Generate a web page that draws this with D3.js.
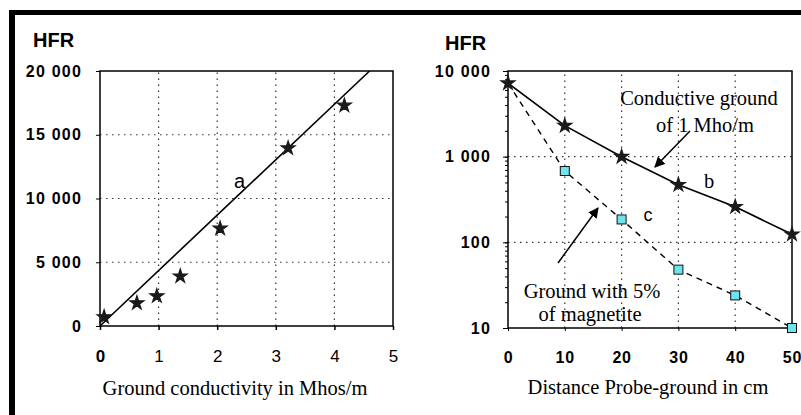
<!DOCTYPE html>
<html>
<head>
<meta charset="utf-8">
<script src="https://cdn.jsdelivr.net/npm/d3@7"></script>
<style>
  body { margin: 0; background: #fff; }
  svg { display: block; }
  .serif { font-family: "Liberation Serif", "DejaVu Serif", serif; }
  .sans { font-family: Arial, "Liberation Sans", sans-serif; }
</style>
</head>
<body>
<script>
// left chart: HFR vs ground conductivity
const condX = [0.07, 0.63, 0.97, 1.37, 2.05, 3.21, 4.17];
const condHFR = [700, 1800, 2350, 3900, 7650, 13950, 17300];
const fitLine = [[0, 0], [4.6, 20000]];
const leftXTicks = [0, 1, 2, 3, 4, 5];
const leftYTicks = [0, 5000, 10000, 15000, 20000];

// right chart: HFR vs probe distance (log)
const distX = [0, 10, 20, 30, 40, 50];
const hfrB = [7200, 2300, 1000, 470, 260, 124];
const hfrC = [7200, 680, 185, 48, 24, 10];
const rightXTicks = [0, 10, 20, 30, 40, 50];
const rightYTicks = [10, 100, 1000, 10000];

const W = 801, H = 415;
const fmt = d => d3.format(',')(d).replace(/,/g, ' ');

const svg = d3.select('body').append('svg')
    .attr('width', W)
    .attr('height', H);

svg.append('rect').attr('width', W).attr('height', H).attr('fill', '#fff');

// thick frame on top and left
svg.append('rect').attr('x', 9).attr('y', 10).attr('width', W - 9).attr('height', 5).attr('fill', '#000');
svg.append('rect').attr('x', 9).attr('y', 10).attr('width', 6).attr('height', H - 10).attr('fill', '#000');

function gridLine(g, x1, y1, x2, y2) {
    g.append('line')
        .attr('x1', x1).attr('y1', y1).attr('x2', x2).attr('y2', y2)
        .attr('stroke', '#333')
        .attr('stroke-width', 1.2)
        .attr('stroke-dasharray', '1.5,4.5');
}

// ---- left chart ----
const lx = d3.scaleLinear().domain([0, 5]).range([100, 393]);
const ly = d3.scaleLinear().domain([0, 20000]).range([326, 71]);
const L = svg.append('g');

leftXTicks.slice(1, -1).forEach(t => gridLine(L, lx(t), ly(0), lx(t), ly(20000)));
leftYTicks.slice(1, -1).forEach(t => gridLine(L, lx(0), ly(t), lx(5), ly(t)));

L.append('rect')
    .attr('x', lx(0)).attr('y', ly(20000))
    .attr('width', lx(5) - lx(0)).attr('height', ly(0) - ly(20000))
    .attr('fill', 'none').attr('stroke', '#000').attr('stroke-width', 1.5);

L.append('g')
    .attr('transform', `translate(0,${ly(0)})`)
    .call(d3.axisBottom(lx).tickValues(leftXTicks).tickSize(4).tickFormat(d3.format('d')))
    .call(g => g.select('.domain').remove())
    .call(g => g.selectAll('line').attr('stroke-width', 1.5))
    .call(g => g.selectAll('text').attr('font-family', null).attr('class', 'sans').attr('font-size', 17)
        .attr('y', 36).attr('dy', 0)
        .attr('font-weight', d => d === 0 ? 'bold' : 'normal'));

L.append('g')
    .attr('transform', `translate(${lx(0)},0)`)
    .call(d3.axisLeft(ly).tickValues(leftYTicks).tickSize(4).tickFormat(fmt))
    .call(g => g.select('.domain').remove())
    .call(g => g.selectAll('text').attr('class', 'sans').attr('font-size', 16)
        .attr('font-weight', 'bold').attr('x', -18).attr('letter-spacing', 1.2));

L.select('g').attr('font-family', null);
L.selectAll('g').attr('font-family', null);

L.append('path')
    .datum(fitLine)
    .attr('fill', 'none').attr('stroke', '#000').attr('stroke-width', 1.6)
    .attr('d', d3.line().x(d => lx(d[0])).y(d => ly(d[1])));

L.selectAll('.pt')
    .data(condX.map((x, i) => [x, condHFR[i]]))
    .join('path')
    .attr('transform', d => `translate(${lx(d[0])},${ly(d[1])})`)
    .attr('d', d3.symbol(d3.symbolStar, 60))
    .attr('fill', '#1a1a1a')
    .attr('stroke', '#1a1a1a').attr('stroke-width', 1.2);

L.append('text').attr('class', 'sans').attr('x', 33).attr('y', 47)
    .attr('font-weight', 'bold').attr('font-size', 20).text('HFR');
L.append('text').attr('class', 'sans').attr('x', 234).attr('y', 188)
    .attr('font-size', 20).text('a');
L.append('text').attr('class', 'serif').attr('x', 235).attr('y', 395).attr('text-anchor', 'middle')
    .attr('font-size', 20.5).text('Ground conductivity in Mhos/m');

// ---- right chart ----
const rx = d3.scaleLinear().domain([0, 50]).range([508, 792]);
const ry = d3.scaleLog().domain([10, 10000]).range([328, 71]);
const R = svg.append('g');

rightXTicks.slice(1, -1).forEach(t => gridLine(R, rx(t), ry(10), rx(t), ry(10000)));
rightYTicks.slice(1, -1).forEach(t => gridLine(R, rx(0), ry(t), rx(50), ry(t)));

R.append('rect')
    .attr('x', rx(0)).attr('y', ry(10000))
    .attr('width', rx(50) - rx(0)).attr('height', ry(10) - ry(10000))
    .attr('fill', 'none').attr('stroke', '#000').attr('stroke-width', 1.5);

R.append('g')
    .attr('transform', `translate(0,${ry(10)})`)
    .call(d3.axisBottom(rx).tickValues(rightXTicks).tickSize(3).tickFormat(d3.format('d')))
    .call(g => g.select('.domain').remove())
    .call(g => g.selectAll('text').attr('class', 'sans').attr('font-size', 16)
        .attr('font-weight', 'bold').attr('y', 35).attr('dy', 0).attr('letter-spacing', 0.8));

// minor log ticks
R.append('g')
    .attr('transform', `translate(${rx(0)},0)`)
    .call(d3.axisLeft(ry).ticks(10, '').tickSize(3))
    .call(g => g.select('.domain').remove())
    .call(g => g.selectAll('text').remove());

R.append('g')
    .attr('transform', `translate(${rx(0)},0)`)
    .call(d3.axisLeft(ry).tickValues(rightYTicks).tickSize(5).tickFormat(fmt))
    .call(g => g.select('.domain').remove())
    .call(g => g.selectAll('text').attr('class', 'sans').attr('font-size', 16)
        .attr('font-weight', 'bold').attr('x', -17).attr('letter-spacing', 1.2));

R.selectAll('g').attr('font-family', null);

const lineR = d3.line().x(d => rx(d[0])).y(d => ry(d[1]));
const dataB = distX.map((x, i) => [x, hfrB[i]]);
const dataC = distX.map((x, i) => [x, hfrC[i]]);

R.append('path').datum(dataC)
    .attr('fill', 'none').attr('stroke', '#000').attr('stroke-width', 1.4)
    .attr('stroke-dasharray', '6,5').attr('d', lineR);
R.append('path').datum(dataB)
    .attr('fill', 'none').attr('stroke', '#000').attr('stroke-width', 1.6).attr('d', lineR);

R.selectAll('.sq')
    .data(dataC.slice(1))
    .join('rect')
    .attr('x', d => rx(d[0]) - 4.5).attr('y', d => ry(d[1]) - 4.5)
    .attr('width', 9).attr('height', 9)
    .attr('fill', '#6fe3ee').attr('stroke', '#111').attr('stroke-width', 1);

R.selectAll('.st')
    .data(dataB)
    .join('path')
    .attr('transform', d => `translate(${rx(d[0])},${ry(d[1])})`)
    .attr('d', d3.symbol(d3.symbolStar, 60))
    .attr('fill', '#1a1a1a')
    .attr('stroke', '#1a1a1a').attr('stroke-width', 1.2);

// arrows
const defs = svg.append('defs');
defs.append('marker').attr('id', 'ah')
    .attr('viewBox', '0 0 10 10').attr('refX', 9).attr('refY', 5)
    .attr('markerWidth', 7).attr('markerHeight', 7).attr('orient', 'auto')
    .append('path').attr('d', 'M0,0 L10,5 L0,10 z').attr('fill', '#000');

R.append('line').attr('x1', 690).attr('y1', 131).attr('x2', 655).attr('y2', 167)
    .attr('stroke', '#000').attr('stroke-width', 1.5).attr('marker-end', 'url(#ah)');
R.append('line').attr('x1', 558).attr('y1', 263).attr('x2', 598).attr('y2', 208)
    .attr('stroke', '#000').attr('stroke-width', 1.5).attr('marker-end', 'url(#ah)');

R.append('text').attr('class', 'sans').attr('x', 445).attr('y', 50)
    .attr('font-weight', 'bold').attr('font-size', 20).text('HFR');

const ann = [
    ['Conductive ground', 699, 105, 'serif', 20.5],
    ['of 1 Mho/m', 705, 132, 'serif', 20.5],
    ['b', 709, 188, 'serif', 20.5],
    ['c', 648, 221, 'sans', 18],
    ['Ground with 5%', 592, 298, 'serif', 20.5],
    ['of magnetite', 590, 321, 'serif', 20.5],
    ['Distance Probe-ground in cm', 648, 394, 'serif', 20.5]
];
ann.forEach(a => R.append('text').attr('class', a[3])
    .attr('x', a[1]).attr('y', a[2]).attr('text-anchor', 'middle')
    .attr('font-size', a[4]).text(a[0]));
</script>
</body>
</html>
